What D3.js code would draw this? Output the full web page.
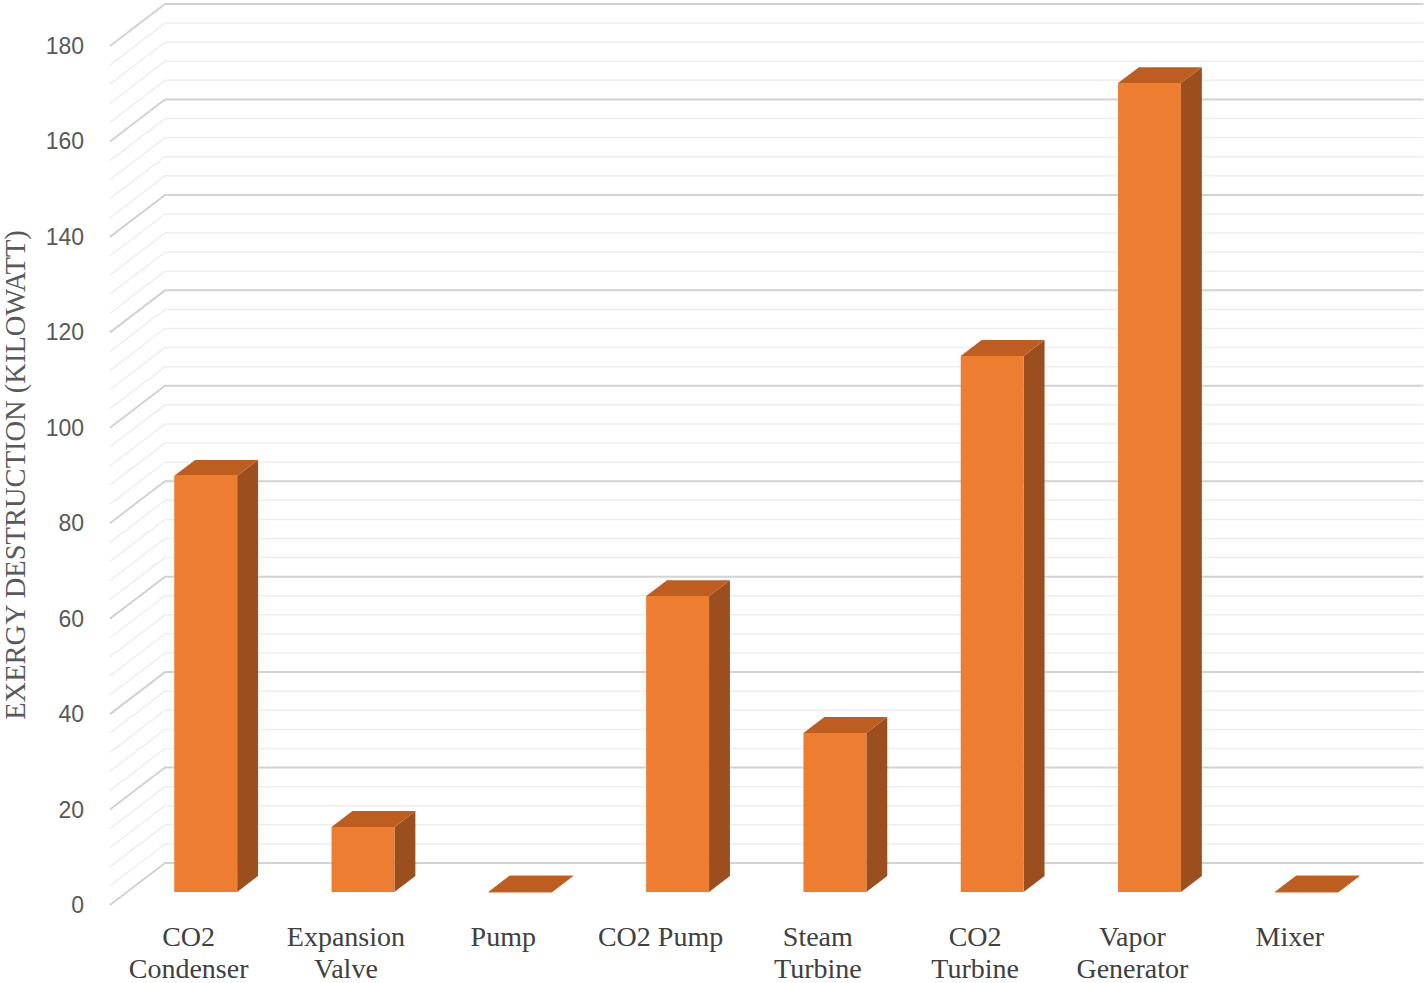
<!DOCTYPE html>
<html>
<head>
<meta charset="utf-8">
<script src="https://cdn.jsdelivr.net/npm/d3@7"></script>
<style>
  html, body { margin: 0; padding: 0; background: #fff; }
  svg { display: block; }
</style>
</head>
<body>
<svg id="chart" width="1428" height="983"></svg>
<script>
// categories, label lines and values (kW)
const categories = ["CO2 Condenser", "Expansion Valve", "Pump", "CO2 Pump",
  "Steam Turbine", "CO2 Turbine", "Vapor Generator", "Mixer"];
const labelLines = [["CO2", "Condenser"], ["Expansion", "Valve"], ["Pump"], ["CO2 Pump"],
  ["Steam", "Turbine"], ["CO2", "Turbine"], ["Vapor", "Generator"], ["Mixer"]];
const values = [87.2, 13.6, 0, 62.0, 33.3, 112.3, 169.5, 0];
const yTicks = [0, 20, 40, 60, 80, 100, 120, 140, 160, 180];
const yMinor = d3.range(0, 181, 4);

const svg = d3.select("#chart");

// front plane origin and oblique depth offset
const x0 = 110, y0 = 905;
const depthX = 55, depthY = -42;
const zFront = 0.31, zBack = 0.69;

const x = d3.scaleBand().domain(categories).range([x0, x0 + 8 * 157.3]).padding(0);
const y = d3.scaleLinear().domain([0, 180]).range([y0, y0 - 859]);
const xRight = x0 + 8 * 157.3;

// project a point (px on front plane, value v, depth z)
const P = (px, v, z) => [px + depthX * z, y(v) + depthY * z];

const grid = svg.append("g");
yMinor.forEach(v => {
  const major = v % 20 === 0;
  const col = major ? "#d2d2d2" : "#eeeeee";
  const a = P(x0, v, 0), b = P(x0, v, 1), c = P(xRight, v, 1);
  grid.append("path")
    .attr("d", `M${a}L${b}L${c}`)
    .attr("fill", "none")
    .attr("stroke", col)
    .attr("stroke-width", major ? 2 : 1.5);
});

// y tick labels
svg.append("g").selectAll("text")
  .data(yTicks)
  .enter().append("text")
    .attr("x", 84)
    .attr("y", d => y(d))
    .attr("dy", "0.35em")
    .attr("text-anchor", "end")
    .style("font-family", "'Liberation Sans', Arial, sans-serif")
    .style("font-size", "23px")
    .style("fill", "#595959")
    .text(d => d);

// y title
svg.append("text")
  .attr("transform", "translate(25,475) rotate(-90)")
  .attr("text-anchor", "middle")
  .style("font-family", "'Liberation Serif', 'Times New Roman', serif")
  .style("font-size", "28.5px")
  .style("fill", "#595959")
  .text("EXERGY DESTRUCTION (KILOWATT)");

// bars
const bw = x.bandwidth() * 0.4;
const bars = svg.append("g").selectAll("g")
  .data(categories.map((c, i) => ({ c, v: values[i] })))
  .enter().append("g");

const poly = pts => "M" + pts.map(p => p.join(",")).join("L") + "Z";

bars.each(function(d) {
  const g = d3.select(this);
  const l = x(d.c) + x.bandwidth() / 2 - bw / 2;
  const r = l + bw;
  // right side
  if (d.v > 0) {
    g.append("path")
      .attr("d", poly([P(r, 0, zFront), P(r, 0, zBack), P(r, d.v, zBack), P(r, d.v, zFront)]))
      .attr("fill", "#9c4f1e");
  }
  // top
  g.append("path")
    .attr("d", poly([P(l, d.v, zFront), P(l, d.v, zBack), P(r, d.v, zBack), P(r, d.v, zFront)]))
    .attr("fill", "#be5d20")
    .attr("stroke", d.v > 0 ? "none" : "#c8631f")
    .attr("stroke-width", 1);
  // front
  if (d.v > 0) {
    g.append("path")
      .attr("d", poly([P(l, 0, zFront), P(r, 0, zFront), P(r, d.v, zFront), P(l, d.v, zFront)]))
      .attr("fill", "#ed7d31");
  }
});

// category labels
const lab = svg.append("g").selectAll("text")
  .data(categories)
  .enter().append("text")
    .attr("x", d => x(d) + x.bandwidth() / 2)
    .attr("y", 946)
    .attr("text-anchor", "middle")
    .style("font-family", "'Liberation Serif', 'Times New Roman', serif")
    .style("font-size", "28px")
    .style("fill", "#404040");

lab.selectAll("tspan")
  .data((d, i) => labelLines[i])
  .enter().append("tspan")
    .attr("x", function() { return d3.select(this.parentNode).attr("x"); })
    .attr("dy", (d, i) => i === 0 ? 0 : 32)
    .text(d => d);
</script>
</body>
</html>
